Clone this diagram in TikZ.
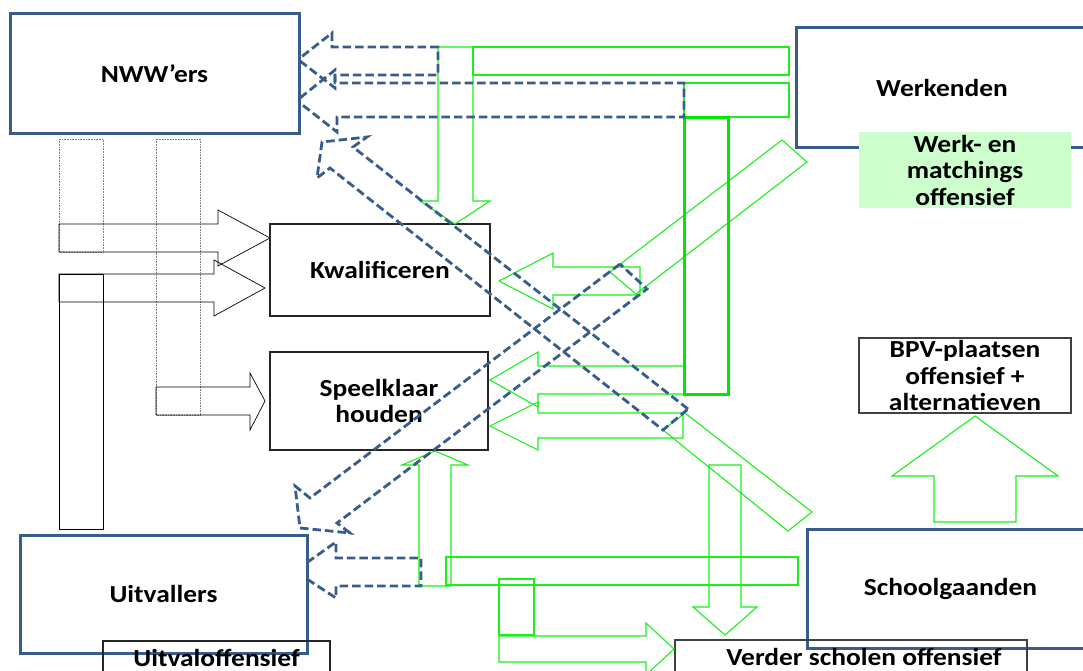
\documentclass[tikz,border=0pt]{standalone}
\usepackage{fontspec}
\newfontfamily\lblfont{Carlito}[FakeStretch=1.12]
\definecolor{bluec}{RGB}{56,93,138}
\definecolor{grn}{RGB}{25,240,25}
\definecolor{grnthick}{RGB}{0,230,0}
\definecolor{lgreen}{RGB}{204,255,204}
\begin{document}
\begin{tikzpicture}[x=1pt,y=-1pt,
  lbl/.style={font=\lblfont\bfseries\fontsize{24.5}{26.5}\selectfont, align=center, inner sep=0pt},
  bluebox/.style={draw=bluec, line width=3pt, rectangle, lbl},
  blackbox/.style={draw=black!85, line width=1.2pt, rectangle, lbl},
  bdash/.style={draw=bluec, line width=2.8pt, dash pattern=on 8.5pt off 4pt, line join=miter},
  garrow/.style={draw=grn, line width=1.1pt},
  gthick/.style={draw=grnthick, line width=3pt},
  karrow/.style={draw=black, line width=0.7pt},
  dotrect/.style={draw=gray, line width=0.6pt, densely dotted},
]
\useasboundingbox (0,0) rectangle (1083,671);

% left thin black arrows and bars
\draw[dotrect] (59,139) rectangle (103,252);
\draw[dotrect] (156,139) rectangle (200,415);
\draw[karrow] (59,274) rectangle (103,529);
\draw[karrow] (59,224) -- (218,224) -- (218,210) -- (270,238) -- (218,266) -- (218,252) -- (59,252) -- cycle;
\draw[karrow] (59,274) -- (214,274) -- (214,260) -- (265,288) -- (214,316) -- (214,302) -- (59,302) -- cycle;
\draw[karrow] (156,387) -- (250,387) -- (250,373) -- (265,401) -- (250,430) -- (250,415) -- (156,415) -- cycle;

% boxes
\node[bluebox, minimum width=289pt, minimum height=120pt] (nww) at (154.5,74) {NWW’ers};
\node[bluebox, minimum width=292pt, minimum height=120pt] (werk) at (942,88) {Werkenden};
\node[blackbox, minimum width=220pt, minimum height=92pt] (kwal) at (380,270) {Kwalificeren};
\node[blackbox, minimum width=218pt, minimum height=98pt] (speel) at (379,401) {Speelklaar\\houden};
\node[bluebox, minimum width=287pt, minimum height=118pt] (uitv) at (163.5,594) {Uitvallers};
\node[blackbox, minimum width=227pt, minimum height=34pt] (uitvoff) at (216.5,658) {Uitvaloffensief};
\node[bluebox, minimum width=287pt, minimum height=119pt] (school) at (950.5,588.5) {Schoolgaanden};
\node[blackbox, draw=black!75, minimum width=212pt, minimum height=75pt] (bpv) at (965,375.5) {BPV-plaatsen\\offensief +\\alternatieven};
\node[blackbox, draw=black!75, minimum width=352pt, minimum height=36pt] (verderbox) at (851,658) {};
\node[lbl] (verder) at (864,657) {Verder scholen offensief};
\node[lbl, fill=lgreen, minimum width=212pt, minimum height=76pt] (wmo) at (965,170) {Werk- en\\matchings\\offensief};

% green shapes
\draw[garrow] (473,47) rectangle (789,75);
\draw[garrow] (438,47) -- (473,47) -- (473,201) -- (490,201) -- (455,224) -- (420,201) -- (438,201) -- cycle;
\draw[garrow] (684,83) rectangle (789,117);
\draw[garrow] (640,267) -- (553,267) -- (553,253) -- (499,281) -- (553,309) -- (553,295) -- (640,295) -- cycle;
\draw[garrow] (684,366) -- (538,366) -- (538,352) -- (490,380) -- (538,407) -- (538,394) -- (684,394) -- cycle;
\draw[garrow] (683,413) -- (538,413) -- (538,402) -- (490,426) -- (538,450) -- (538,438) -- (683,438) -- cycle;
\draw[garrow] (610,272) -- (782,140) -- (807,162) -- (636,294) -- cycle;
\draw[garrow] (685,413) -- (812,512) -- (788,531) -- (663,430) -- cycle;
\draw[garrow] (419,586) -- (419,465) -- (402,465) -- (435,451) -- (468,465) -- (451,465) -- (451,586) -- cycle;
\draw[garrow] (446,557) rectangle (798,585);
\draw[garrow] (709,465) -- (741,465) -- (741,607) -- (757,607) -- (725,635) -- (693,607) -- (709,607) -- cycle;
\draw[garrow] (499,579) rectangle (534,635);
\draw[garrow] (499,636) -- (646,636) -- (646,623) -- (674,649) -- (646,675) -- (646,662) -- (499,662) -- cycle;
\draw[garrow] (934,522) -- (934,476) -- (892,476) -- (975,416) -- (1058,476) -- (1016,476) -- (1016,522) -- cycle;
\draw[gthick] (684,118) rectangle (728,394);

% blue dashed block arrows
\draw[bdash] (300,61) -- (335,88) -- (335,75) -- (438,75) -- (438,47) -- (332,47) -- (332,33) -- (300,58);
\draw[bdash] (300,98) -- (335,70) -- (335,83) -- (684,83) -- (684,117) -- (337,117) -- (337,132) -- (300,103);
\draw[bdash] (307,562.5) -- (336,542) -- (336,558) -- (421,558) -- (421,586) -- (336,586) -- (336,598) -- (307,579);
\draw[bdash] (688,409) -- (353,147) -- (367,137) -- (322,142) -- (317,178) -- (330,168) -- (663,430) -- cycle;
\draw[bdash] (620,264) -- (310,498) -- (295,486) -- (300,528) -- (350,533) -- (337,523) -- (647,289) -- cycle;
\end{tikzpicture}
\end{document}
